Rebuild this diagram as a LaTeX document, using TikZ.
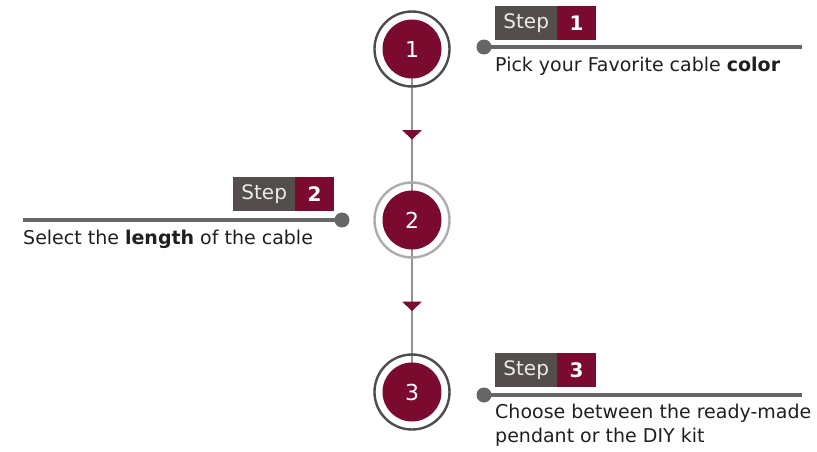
\documentclass[tikz,border=0pt]{standalone}
\usepackage{fontspec}
\setmainfont{DejaVu Sans}
\usetikzlibrary{positioning,backgrounds,calc}
\definecolor{wine}{HTML}{7A0A2E}
\definecolor{slate}{HTML}{534D4B}
\definecolor{leadgray}{HTML}{666666}

\begin{document}
\begin{tikzpicture}[x=1pt,y=-1pt,
ring/.style={circle,draw=#1,line width=2.4pt,minimum size=75pt,inner sep=0pt},
disc/.style={circle,fill=wine,text=white,minimum size=59pt,inner sep=0pt,font=\fontsize{22}{22}\selectfont},
spine/.style={draw=gray!85,line width=2pt},
tagword/.style={fill=slate,text=white!92!black,minimum width=62pt,minimum height=34pt,inner sep=0pt,font=\fontsize{20}{20}\selectfont},
tagnum/.style={fill=wine,text=white,minimum width=39pt,minimum height=34pt,inner sep=0pt,font=\fontsize{20}{20}\selectfont\bfseries},
dot/.style={circle,fill=leadgray,minimum size=15pt,inner sep=0pt},
leader/.style={draw=leadgray,line width=3.5pt},
caption/.style={inner sep=0pt,align=left,font=\fontsize{19}{24}\selectfont,text=black!88}]
\useasboundingbox (0,0) rectangle (817,452);
% circles
\node[ring=black!70] (ring1) at (412,49) {};
\node[disc] (disc1) at (412,49) {1};
\node[ring=gray!65] (ring2) at (412,220) {};
\node[disc] (disc2) at (412,220) {2};
\node[ring=black!70] (ring3) at (412,392) {};
\node[disc] (disc3) at (412,392) {3};
\begin{scope}[on background layer]
\draw[spine] (disc1.center) -- (disc3.center);
\end{scope}
% markers between the circles
\coordinate (mark1) at ($(ring1.south)!0.5!(ring2.north)$);
\coordinate (mark2) at ($(ring2.south)!0.5!(ring3.north)$);
\foreach \m in {mark1,mark2}
  \fill[wine] (\m) ++(-10,-4.5) -- ++(20,0) -- ++(-10,9.5) -- cycle;
% step 1
\node[tagword,anchor=north west] (word1) at (495,6) {Step};
\node[tagnum,right=-0.6pt of word1] (num1) {1};
\node[dot] (dot1) at (484,47) {};
\coordinate (end1) at (802,47);
\draw[leader] (dot1.center) -- (end1);
\node[caption,anchor=base west] (text1) at (495,72) {Pick your Favorite cable \textbf{color}};
% step 2
\node[tagword,anchor=north west] (word2) at (233,177) {Step};
\node[tagnum,right=-0.6pt of word2] (num2) {2};
\node[dot] (dot2) at (342,220) {};
\coordinate (end2) at (23,220);
\draw[leader] (dot2.center) -- (end2);
\node[caption,anchor=base west] (text2) at (23,244) {Select the \textbf{length} of the cable};
% step 3
\node[tagword,anchor=north west] (word3) at (495,353) {Step};
\node[tagnum,right=-0.6pt of word3] (num3) {3};
\node[dot] (dot3) at (484,395) {};
\coordinate (end3) at (802,395);
\draw[leader] (dot3.center) -- (end3);
\node[caption,anchor=base west] (text3) at (495,442) {Choose between the ready-made\\pendant or the DIY kit};
\end{tikzpicture}
\end{document}
